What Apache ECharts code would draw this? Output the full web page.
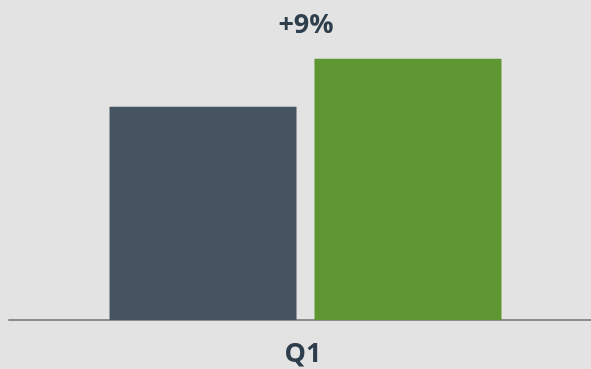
<!DOCTYPE html>
<html><head><meta charset="utf-8">
<script src="https://cdn.jsdelivr.net/npm/echarts@6/dist/echarts.min.js"></script>
<style>html,body{margin:0;padding:0;background:#e3e3e3;}#c{width:591px;height:369px;}</style>
</head><body><div id="c"></div>
<script>
const categories = ['Q1'];
const seriesA = [100];
const seriesB = [109];
const changeLabel = '+9%';

const chart = echarts.init(document.getElementById('c'));
chart.setOption({
  backgroundColor: '#e3e3e3',
  animation: false,
  title: {
    text: changeLabel, left: 306, top: 7, textAlign: 'center', padding: [5, 10, 5, 0],
    textStyle: {fontFamily: 'Open Sans', fontWeight: 'bold', fontSize: 27, color: '#2f3e4d'}
  },
  grid: {left: 9, right: -11, top: 0, bottom: 49, outerBoundsMode: 'none', containLabel: false},
  xAxis: {
    type: 'category', data: categories,
    axisLine: {lineStyle: {color: '#8c8c8c', width: 2}},
    axisTick: {show: false},
    axisLabel: {fontFamily: 'Open Sans', fontWeight: 'bold', fontSize: 27, color: '#2f3e4d', margin: 21, padding: [0, 5, 0, 0]}
  },
  yAxis: {type: 'value', min: 60, max: 120, show: false, splitLine: {show: false}},
  series: [
    {type: 'bar', data: seriesA, barWidth: 187, barGap: '9.6%', itemStyle: {color: '#465461'}},
    {type: 'bar', data: seriesB, barWidth: 187, itemStyle: {color: '#5e9732'}}
  ]
});
</script></body></html>
